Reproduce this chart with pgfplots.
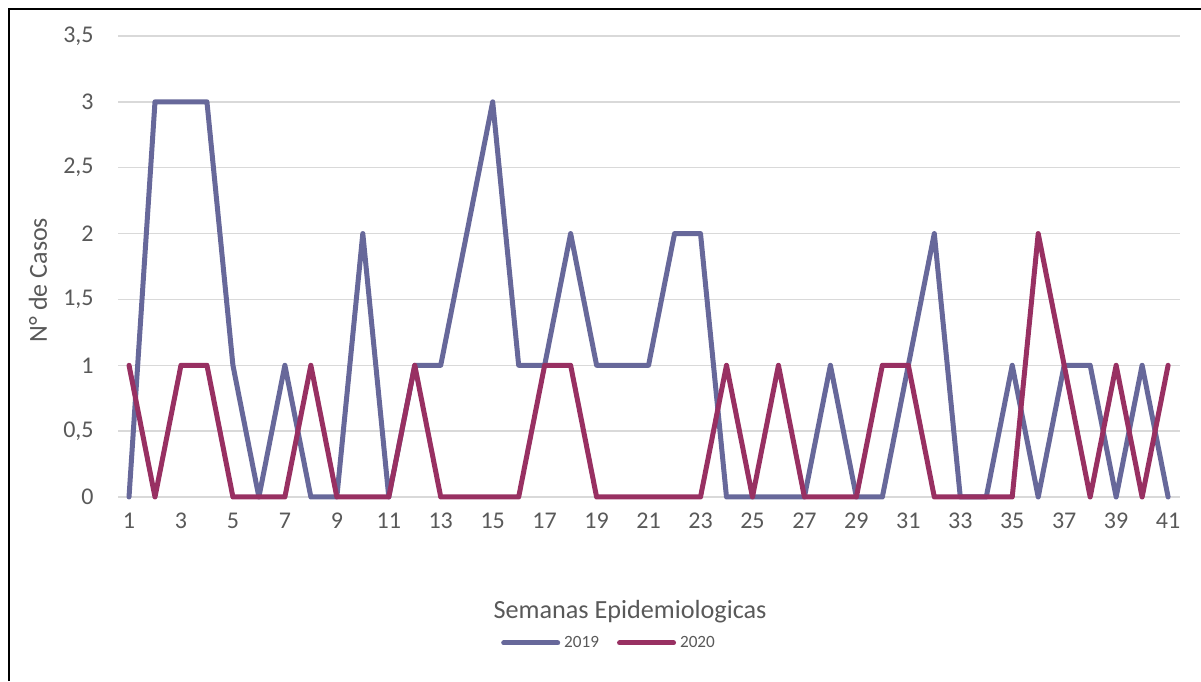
\documentclass[border=0pt]{standalone}
\usepackage{pgfplots}
\pgfplotsset{compat=1.18}
\usepackage{fontspec}
\setmainfont{Carlito}
\definecolor{sA}{HTML}{67689A}
\definecolor{sB}{HTML}{983062}
\definecolor{txt}{HTML}{595959}
\definecolor{grd}{HTML}{D9D9D9}
\begin{document}
\begin{tikzpicture}[x=0.5bp,y=0.5bp]
\useasboundingbox (0,0) rectangle (1201,681);
\draw[black,line width=1.2bp] (9,0) -- (9,672) -- (1201,672);
\begin{axis}[
  at={(59bp,92bp)}, anchor=south west,
  scale only axis, width=531bp, height=230.5bp,
  xmin=0.576, xmax=41.46, ymin=0, ymax=3.5,
  axis line style={draw=none},
  major tick length=0pt,
  xtick={1,3,...,41},
  ytick={0,0.5,...,3.5},
  ymajorgrids, grid style={grd,line width=0.75bp},
  /pgf/number format/assume math mode=true,
  /pgf/number format/use comma,
  /pgf/number format/fixed,
  ticklabel style={font=\fontsize{12bp}{14bp}\selectfont, text=txt},
  yticklabel style={anchor=east, inner sep=0pt, xshift=-12bp},
  xticklabel style={anchor=north, inner sep=0pt, yshift=-8bp},
  legend style={at={(0.4633,-0.3167)}, anchor=center, draw=none, fill=none,
    legend columns=2, font=\fontsize{8.6bp}{10bp}\selectfont, text=txt,
    /tikz/every even column/.append style={column sep=7bp},
    inner sep=0pt},
  legend image code/.code={\draw[#1, line width=2.5bp, line cap=round] (0bp,0bp) -- (27bp,0bp);},
  clip=false,
]
\addplot[sA, line width=2.5bp, line join=round, line cap=round] coordinates {
(1,0)(2,3)(3,3)(4,3)(5,1)(6,0)(7,1)(8,0)(9,0)(10,2)
(11,0)(12,1)(13,1)(14,2)(15,3)(16,1)(17,1)(18,2)(19,1)(20,1)
(21,1)(22,2)(23,2)(24,0)(25,0)(26,0)(27,0)(28,1)(29,0)(30,0)
(31,1)(32,2)(33,0)(34,0)(35,1)(36,0)(37,1)(38,1)(39,0)(40,1)(41,0)};
\addlegendentry{2019}
\addplot[sB, line width=2.5bp, line join=round, line cap=round] coordinates {
(1,1)(2,0)(3,1)(4,1)(5,0)(6,0)(7,0)(8,1)(9,0)(10,0)
(11,0)(12,1)(13,0)(14,0)(15,0)(16,0)(17,1)(18,1)(19,0)(20,0)
(21,0)(22,0)(23,0)(24,1)(25,0)(26,1)(27,0)(28,0)(29,0)(30,1)
(31,1)(32,0)(33,0)(34,0)(35,0)(36,2)(37,1)(38,0)(39,1)(40,0)(41,1)};
\addlegendentry{2020}
\end{axis}
\node[rotate=90, text=txt, font=\fontsize{13bp}{15bp}\selectfont] at (38,401) {N° de Casos};
\node[anchor=base, text=txt, font=\fontsize{13.1bp}{15bp}\selectfont] at (630,63) {Semanas Epidemiologicas};
\end{tikzpicture}
\end{document}
